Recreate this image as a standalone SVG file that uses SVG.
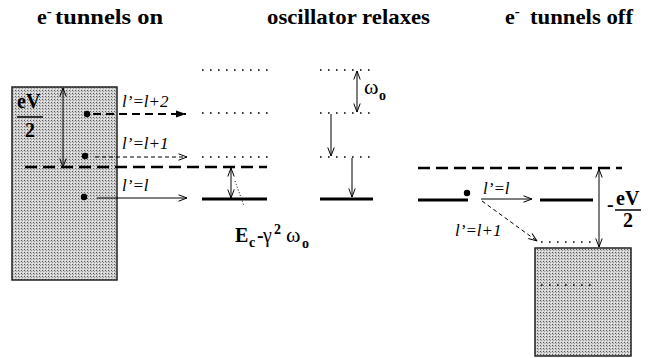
<svg xmlns="http://www.w3.org/2000/svg" width="649" height="358" viewBox="0 0 649 358">
<style>
text{font-family:'Liberation Serif','DejaVu Serif','Times New Roman',serif;fill:#000}
.t{font-weight:bold;font-size:22px}
.lab{font-style:italic;font-size:17px}
.b{font-weight:bold}
.dash{stroke:#000;stroke-width:2.5;stroke-dasharray:12 6;fill:none}
.dot{stroke:#000;stroke-width:1.6;stroke-dasharray:1.6 6.4;fill:none}
.lev{stroke:#000;stroke-width:3;fill:none}
.thin{stroke:#000;stroke-width:1;fill:none}
.box{fill:url(#stip);stroke:#222;stroke-width:1.5}
</style>
<defs>
<pattern id="stip" width="3" height="3" patternUnits="userSpaceOnUse">
<rect width="3" height="3" fill="#d2d2d2"/>
<rect x="0" y="0" width="1" height="1" fill="#555"/>
<rect x="1" y="1" width="1" height="1" fill="#9a9a9a"/>
<rect x="2" y="2" width="1" height="1" fill="#eee"/>
</pattern>
<marker id="open" viewBox="0 0 10 8" refX="9.5" refY="4" markerWidth="10" markerHeight="8" markerUnits="userSpaceOnUse" orient="auto-start-reverse">
<path d="M1,0.8 L9.5,4 L1,7.2" fill="none" stroke="#000" stroke-width="1"/>
</marker>
<marker id="fill" viewBox="0 0 10 8" refX="10" refY="4" markerWidth="10" markerHeight="8" markerUnits="userSpaceOnUse" orient="auto">
<path d="M0,0.5 L10,4 L0,7.5 Z" fill="#000"/>
</marker>
</defs>

<g id="titles">
<text class="t" font-family="Liberation Serif, serif" x="37" y="24">e<tspan font-size="15" dy="-8">-</tspan></text>
<text class="t" font-family="Liberation Serif, serif" x="55" y="24" textLength="108" lengthAdjust="spacingAndGlyphs">tunnels on</text>
<text class="t" font-family="Liberation Serif, serif" x="267" y="24" textLength="163" lengthAdjust="spacingAndGlyphs">oscillator relaxes</text>
<text class="t" font-family="Liberation Serif, serif" x="505" y="24">e<tspan font-size="15" dy="-8">-</tspan></text>
<text class="t" font-family="Liberation Serif, serif" x="530" y="24" textLength="103" lengthAdjust="spacingAndGlyphs">tunnels off</text>
</g>

<g id="left-lead">
<rect class="box" x="12" y="87" width="105" height="193"/>
<text class="b" font-family="Liberation Serif, serif" font-size="20" x="17" y="108">eV</text>
<line x1="17" y1="117" x2="43" y2="117" stroke="#000" stroke-width="1.5"/>
<text class="b" font-family="Liberation Serif, serif" font-size="20" x="25" y="137">2</text>
<circle cx="87" cy="114" r="3.2" fill="#000"/>
<circle cx="85" cy="156" r="3.2" fill="#000"/>
<circle cx="84" cy="197" r="3.2" fill="#000"/>
</g>

<g id="bias-line-left">
<line class="dash" x1="25" y1="167" x2="267" y2="167"/>
</g>

<g id="levels-middle">
<line class="dot" x1="202" y1="70" x2="268" y2="70"/>
<line class="dot" x1="202" y1="113" x2="268" y2="113"/>
<line class="dot" x1="202" y1="157" x2="268" y2="157"/>
<line class="lev" x1="202" y1="199" x2="267" y2="199"/>
</g>

<g id="levels-relax">
<line class="dot" x1="320" y1="70" x2="374" y2="70"/>
<line class="dot" x1="320" y1="113" x2="374" y2="113"/>
<line class="dot" x1="320" y1="157" x2="374" y2="157"/>
<line class="lev" x1="320" y1="199" x2="373" y2="199"/>
</g>

<g id="levels-off">
<line class="dash" x1="418" y1="168" x2="622" y2="168"/>
<line class="lev" x1="418" y1="200" x2="468" y2="200"/>
<circle cx="467" cy="193" r="3.2" fill="#000"/>
<line class="lev" x1="540" y1="200" x2="593" y2="200"/>
<line class="dot" x1="541" y1="242" x2="595" y2="242"/>
</g>

<g id="right-lead">
<rect class="box" x="535" y="248" width="96" height="108"/>
<line class="dot" x1="541" y1="285" x2="595" y2="285"/>
<text class="b" font-family="Liberation Serif, serif" font-size="20" x="607" y="211">-</text>
<text class="b" font-family="Liberation Serif, serif" font-size="20" x="616" y="205">eV</text>
<line x1="615" y1="210" x2="641" y2="210" stroke="#000" stroke-width="1.5"/>
<text class="b" font-family="Liberation Serif, serif" font-size="20" x="623" y="227">2</text>
</g>

<g id="labels">
<text class="lab" font-family="Liberation Serif, serif" x="122" y="107">l’=l+2</text>
<text class="lab" font-family="Liberation Serif, serif" x="122" y="149">l’=l+1</text>
<text class="lab" font-family="Liberation Serif, serif" x="122" y="191">l’=l</text>
<text class="lab" font-family="Liberation Serif, serif" x="483" y="194">l’=l</text>
<text class="lab" font-family="Liberation Serif, serif" x="455" y="236">l’=l+1</text>
<text font-family="Liberation Serif, serif" font-size="22" x="364" y="94">ω</text>
<text class="b" font-family="Liberation Serif, serif" font-size="14" x="379" y="100">o</text>
<text class="b" font-family="Liberation Serif, serif" font-size="20" x="235" y="242">E</text>
<text class="b" font-family="Liberation Serif, serif" font-size="14" x="249" y="247">c</text>
<text class="b" font-family="Liberation Serif, serif" font-size="20" x="257" y="242">-</text>
<text font-family="Liberation Serif, serif" font-size="20" x="263" y="242">γ</text>
<text class="b" font-family="Liberation Serif, serif" font-size="14" x="274" y="234">2</text>
<text font-family="Liberation Serif, serif" font-size="22" x="286" y="242">ω</text>
<text class="b" font-family="Liberation Serif, serif" font-size="14" x="302" y="248">o</text>
</g>

<g id="connectors">
<line x1="93" y1="114" x2="186" y2="114" stroke="#000" stroke-width="2.2" stroke-dasharray="8 5" marker-end="url(#fill)"/>
<line x1="95" y1="157" x2="187" y2="157" stroke="#000" stroke-width="1" stroke-dasharray="4 3" marker-end="url(#open)"/>
<line class="thin" x1="97" y1="198" x2="187" y2="198" marker-end="url(#open)"/>
<line class="thin" x1="63" y1="88" x2="63" y2="167" marker-start="url(#open)" marker-end="url(#open)"/>
<line class="thin" x1="231" y1="168" x2="231" y2="198" marker-start="url(#open)" marker-end="url(#open)"/>
<line x1="235" y1="181" x2="244" y2="206" stroke="#000" stroke-width="1" stroke-dasharray="1 2"/>
<line class="thin" x1="357" y1="71" x2="357" y2="112" marker-start="url(#open)" marker-end="url(#open)"/>
<line class="thin" x1="331" y1="114" x2="331" y2="156" marker-end="url(#open)"/>
<line class="thin" x1="352" y1="158" x2="352" y2="197" marker-end="url(#open)"/>
<line class="thin" x1="481" y1="199" x2="532" y2="199" marker-end="url(#open)"/>
<line x1="482" y1="201" x2="537" y2="241" stroke="#000" stroke-width="1" stroke-dasharray="4 3" marker-end="url(#open)"/>
<line class="thin" x1="599" y1="169" x2="599" y2="247" marker-start="url(#open)" marker-end="url(#open)"/>
</g>
</svg>
